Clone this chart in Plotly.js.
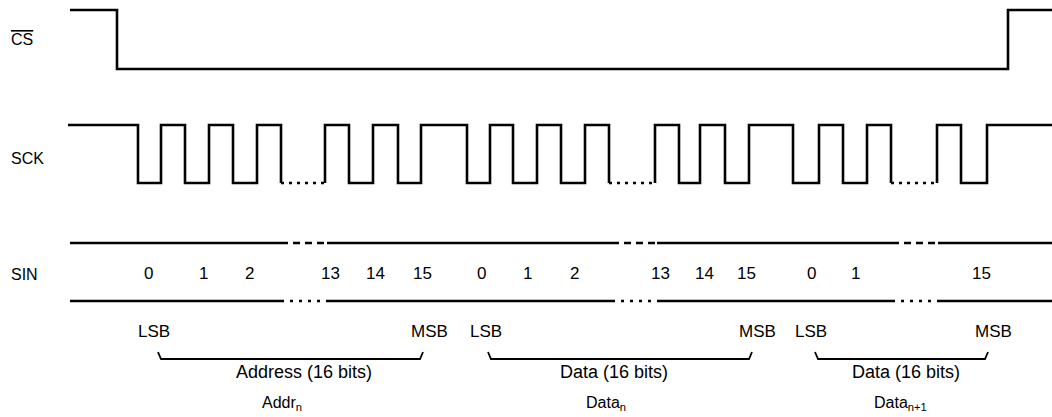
<!DOCTYPE html>
<html><head><meta charset="utf-8">
<script src="https://cdn.plot.ly/plotly-3.0.1.min.js"></script>
<style>html,body{margin:0;padding:0;background:#fff}</style>
</head><body><div id="chart" style="width:1052px;height:417px"></div>
<script>
// ---------- data ----------
const signalNames = ['<span style="text-decoration:overline">CS</span>', 'SCK', 'SIN'];
// CS: edge times and level after each time
const csTimes  = [70, 117, 1008, 1052];
const csLevels = [1, 0, 1, 1];
// SCK: edge times and level after each time
const sckTimes  = [68,138,161,185,209,233,257,281,325,349,373,398,421,467,490,513,537,561,585,609,655,679,700,725,749,793,819,843,867,891,937,961,987,1052];
const sckLevels = [1,0,1,0,1,0,1,0,1,0,1,0,1,0,1,0,1,0,1,0,1,0,1,0,1,0,1,0,1,0,1,0,1,1];
const sckGaps = [[281,325],[609,655],[891,937]];
// SIN bus
const sinSpan = [70, 1052];
const sinGaps = [[281,327],[612,657],[892,938]];
const bitLabels = ['0','1','2','13','14','15','0','1','2','13','14','15','0','1','15'];
const bitPos    = [148,203,249,330,375,422,481,527,574,660,704,746,811,855,981];
const endLabels = ['LSB','MSB','LSB','MSB','LSB','MSB'];
const endPos    = [154,429,486,757,811,993];
const wordNames = ['Address (16 bits)','Data (16 bits)','Data (16 bits)'];
const wordSubs  = ['Addr<sub>n</sub>','Data<sub>n</sub>','Data<sub>n+1</sub>'];
const wordStart = [158,488,815];
const wordEnd   = [423,752,988];
const wordNamePos = [304,614,906];
const wordSubPos  = [282,606,900];

// ---------- layout constants ----------
const lanes = {cs:{hi:10, lo:69}, sck:{hi:125, lo:183}, sin:{hi:243, lo:301}};
const labelY = [39, 158, 274];
const bitY = 273, endY = 331, braceTop = 352, braceBot = 359, nameY = 372, subY = 403;
const LW = 2.6, FONT = 'Liberation Sans, Arial, sans-serif';

function buildStep(times, levels, gaps, lane){
  const Y = l => lane.lo + l*(lane.hi-lane.lo);
  const xs=[times[0]], ys=[Y(levels[0])], dx=[], dy=[];
  for(let i=1;i<times.length;i++){
    const t=times[i], t0=times[i-1], p=levels[i-1], n=levels[i];
    const inGap = gaps.some(g=>g[0]===t0 && g[1]===t);
    if(inGap){ xs.push(null); ys.push(null); xs.push(t); ys.push(Y(p)); dx.push(t0,t,null); dy.push(Y(p),Y(p),null); }
    else { xs.push(t); ys.push(Y(p)); }
    if(n!==p){ xs.push(t); ys.push(Y(n)); }
  }
  return {xs,ys,dx,dy};
}
const traces = [];
const line = (x,y,w,dash)=>({type:'scatter',mode:'lines',x:x,y:y,hoverinfo:'skip',showlegend:false,
  line:{color:'#000',width:w,dash:dash||'solid'},connectgaps:false});

const cs = buildStep(csTimes, csLevels, [], lanes.cs);
traces.push(line(cs.xs, cs.ys, LW));
const sck = buildStep(sckTimes, sckLevels, sckGaps, lanes.sck);
traces.push(line(sck.xs, sck.ys, LW));
traces.push(line(sck.dx, sck.dy, LW, '3px,5px'));

// SIN bus lines
[['hi','7px,5px'],['lo','3px,6px']].forEach(([k,d])=>{
  const yv = lanes.sin[k];
  const sx=[], sy=[], gx=[], gy=[];
  let cur = sinSpan[0];
  sinGaps.forEach(g=>{ sx.push(cur,g[0],null); sy.push(yv,yv,null); gx.push(g[0],g[1],null); gy.push(yv,yv,null); cur=g[1]; });
  sx.push(cur, sinSpan[1]); sy.push(yv,yv);
  traces.push(line(sx,sy,LW));
  traces.push(line(gx,gy,LW,d));
});

// braces
const bx=[], by=[];
wordStart.forEach((s,i)=>{ const e=wordEnd[i]; bx.push(s,s+3,e-3,e,null); by.push(braceTop,braceBot,braceBot,braceTop,null); });
traces.push(line(bx,by,1.8));

// ---------- annotations ----------
const ann = [];
const txt = (x,y,t,size)=>({x:x,y:y,xref:'x',yref:'y',text:t,showarrow:false,xanchor:'center',yanchor:'middle',
  font:{family:FONT,size:size,color:'#000'}});
signalNames.forEach((n,i)=>{ const a=txt(9,labelY[i],n,16); a.xanchor='left'; ann.push(a); });
bitLabels.forEach((b,i)=>ann.push(txt(bitPos[i],bitY,b,17)));
endLabels.forEach((b,i)=>ann.push(txt(endPos[i],endY,b,17)));
wordNames.forEach((b,i)=>ann.push(txt(wordNamePos[i],nameY,b,18)));
wordSubs.forEach((b,i)=>ann.push(txt(wordSubPos[i],subY,b,16)));

const layout = {
  width:1052, height:417, margin:{l:0,r:0,t:0,b:0},
  paper_bgcolor:'#fff', plot_bgcolor:'#fff', showlegend:false,
  xaxis:{range:[0,1052],visible:false,fixedrange:true},
  yaxis:{range:[417,0],visible:false,fixedrange:true},
  annotations: ann
};
Plotly.newPlot('chart', traces, layout, {staticPlot:true, displayModeBar:false});
</script></body></html>
